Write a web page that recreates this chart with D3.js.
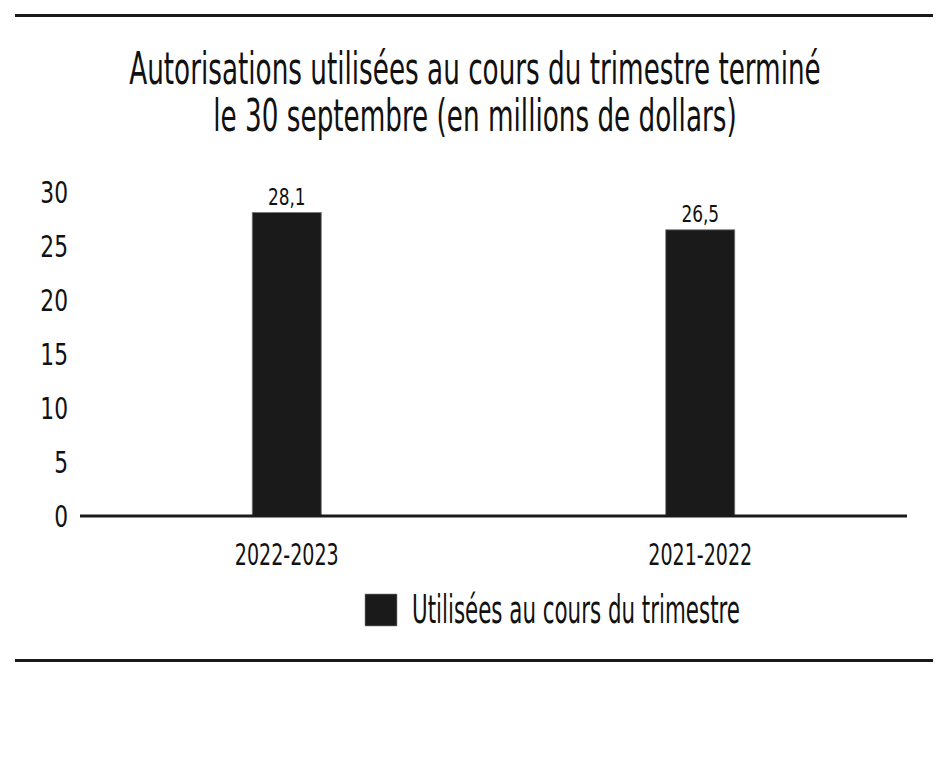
<!DOCTYPE html>
<html>
<head>
<meta charset="utf-8">
<script src="https://cdn.jsdelivr.net/npm/d3@7"></script>
<style>
  html, body { margin: 0; padding: 0; background: #fff; }
  svg { display: block; }
  text { font-family: "Liberation Sans Narrow", "DejaVu Sans Condensed", "Roboto Condensed", "Liberation Sans", sans-serif; fill: #111; }
</style>
</head>
<body>
<svg id="chart" width="950" height="772"></svg>
<script>
const titleLines = ["Autorisations utilisées au cours du trimestre terminé", "le 30 septembre (en millions de dollars)"];
const categories = ["2022-2023", "2021-2022"];
const values = [28.1, 26.5];
const valueLabels = ["28,1", "26,5"];
const yTicks = [0, 5, 10, 15, 20, 25, 30];
const legendLabel = "Utilisées au cours du trimestre";

const svg = d3.select("#chart");
const W = 950;
const FONT = "\"Liberation Sans Narrow\", \"DejaVu Sans Condensed\", \"Liberation Sans\", sans-serif";

// rules
svg.append("rect").attr("x", 15).attr("y", 14).attr("width", 918).attr("height", 3).attr("fill", "#1a1a1a");
svg.append("rect").attr("x", 15).attr("y", 659).attr("width", 918).attr("height", 3).attr("fill", "#1a1a1a");

// title: one text element, two lines, squeezed horizontally around the centre
const title = svg.append("text").attr("text-anchor", "middle").attr("font-size", 45);
titleLines.forEach((t, i) => {
  title.append("tspan").attr("x", 0).attr("y", i === 0 ? 84 : 131).text(t);
});
const natW = title.select("tspan").node().getComputedTextLength();
const sx = 692 / natW;
title.attr("transform", `translate(${W / 2},0) scale(${sx},1)`);

const x = d3.scaleBand().domain(categories).range([80, 907]).paddingInner(0).paddingOuter(0);
const y = d3.scaleLinear().domain([0, 30]).range([516, 192]);
const barW = 69;

// y axis labels
const yAxis = d3.axisLeft(y).tickValues(yTicks).tickSize(0).tickPadding(0).tickFormat(d3.format("d"));
const yg = svg.append("g").attr("transform", "translate(68,0)").call(yAxis);
yg.select(".domain").remove();
yg.selectAll("text").attr("font-size", 31).attr("fill", "#111")
  .style("font-family", FONT)
  .attr("dy", "0.33em").attr("transform", "scale(0.78,1)").attr("x", 0);

// bars
svg.selectAll("rect.bar").data(values).enter().append("rect")
  .attr("class", "bar")
  .attr("x", (d, i) => x(categories[i]) + x.bandwidth() / 2 - barW / 2)
  .attr("y", d => y(d))
  .attr("width", barW)
  .attr("height", d => y(0) - y(d))
  .attr("fill", "#1a1a1a").attr("stroke", "#777").attr("stroke-width", 0.8);

// value labels
svg.selectAll("text.val").data(values).enter().append("text")
  .attr("class", "val")
  .attr("transform", (d, i) => `translate(${x(categories[i]) + x.bandwidth() / 2},${y(d) - 8}) scale(0.82,1)`)
  .attr("text-anchor", "middle").attr("font-size", 23)
  .text((d, i) => valueLabels[i]);

// x axis line + category labels
const xAxis = d3.axisBottom(x).tickSize(0).tickPadding(0);
const xg = svg.append("g").attr("transform", "translate(0,516)").call(xAxis);
xg.select(".domain").attr("stroke", "#1a1a1a").attr("stroke-width", 3).attr("d", "M80,0H907");
xg.selectAll("text").attr("font-size", 31).attr("fill", "#111")
  .style("font-family", FONT)
  .attr("y", 49).attr("dy", 0)
  .each(function () {
    const w = this.getComputedTextLength();
    d3.select(this).attr("transform", `scale(${104 / w},1)`);
  });

// legend
svg.append("rect").attr("x", 365).attr("y", 594).attr("width", 32).attr("height", 32).attr("fill", "#1a1a1a").attr("stroke", "#888").attr("stroke-width", 0.6);
const lg = svg.append("text").attr("x", 0).attr("y", 0).attr("font-size", 39).text(legendLabel);
const lw = lg.node().getComputedTextLength();
lg.attr("transform", `translate(412,623) scale(${328 / lw},1)`);
</script>
</body>
</html>
